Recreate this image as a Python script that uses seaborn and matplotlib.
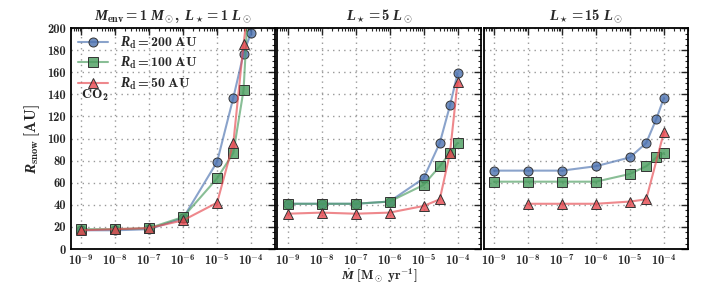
import numpy as np
import pandas as pd
import seaborn as sns
import matplotlib.pyplot as plt
from matplotlib.colors import to_rgba
from matplotlib.ticker import FuncFormatter, MultipleLocator, LogLocator, NullFormatter

# accretion rates (Msun/yr)
mdot = [1e-9, 1e-8, 1e-7, 1e-6, 1e-5, 3e-5, 6e-5, 1e-4]

# snowline radius [AU] per panel, per disk radius
l1_rd200 = [17, 17, 18, 28, 79, 137, 177, 196]
l1_rd100 = [18, 18, 19, 29, 64, 87, 144, 270]
l1_rd50 = [17, 18, 19, 26, 42, 96, 186, 240]

l5_rd200 = [41, 41, 41, 43, 64, 96, 130, 159]
l5_rd100 = [41, 41, 41, 43, 58, 75, 87, 96]
l5_rd50 = [32, 33, 32, 33, 39, 45, 87, 151]

l15_rd200 = [71, 71, 71, 75, 83, 96, 118, 137]
l15_rd100 = [61, 61, 61, 61, 68, 75, 83, 87]
l15_rd50 = [np.nan, 41, 41, 41, 43, 45, np.nan, 106]

panels = [
    (r'$M_{\rm env} = 1\ M_\odot,\ L_\star = 1\ L_\odot$', [l1_rd200, l1_rd100, l1_rd50]),
    (r'$L_\star = 5\ L_\odot$', [l5_rd200, l5_rd100, l5_rd50]),
    (r'$L_\star = 15\ L_\odot$', [l15_rd200, l15_rd100, l15_rd50]),
]
labels = [r'$R_{\rm d} = 200\ \rm AU$', r'$R_{\rm d} = 100\ \rm AU$', r'$R_{\rm d} = 50\ \rm AU$']
colors = ['#4C72B0', '#4A9C5E', '#E5484F']
markers = ['o', 's', '^']

sns.set_style('white')
plt.rcParams['font.family'] = 'serif'
plt.rcParams['font.serif'] = ['cmb10', 'DejaVu Serif']
plt.rcParams['mathtext.fontset'] = 'custom'
plt.rcParams['mathtext.rm'] = 'cmb10'
plt.rcParams['mathtext.bf'] = 'cmb10'
plt.rcParams['mathtext.it'] = 'Liberation Serif:italic:bold'
plt.rcParams['mathtext.fallback'] = 'cm'
plt.rcParams['axes.unicode_minus'] = False

fig, axes = plt.subplots(1, 3, figsize=(7.09, 2.84), dpi=100, sharey=True)
fig.subplots_adjust(left=0.100, right=0.970, top=0.901, bottom=0.123, wspace=0.012)

for ax, (title, series) in zip(axes, panels):
    for vals, lab, col, mk in zip(series, labels, colors, markers):
        df = pd.DataFrame({'mdot': mdot, 'r': vals}).dropna()
        sns.lineplot(data=df, x='mdot', y='r', ax=ax, color=to_rgba(col, 0.65), marker=mk,
                     markersize=6.5, markerfacecolor=to_rgba(col, 0.8),
                     markeredgecolor='#333333', markeredgewidth=0.7,
                     linewidth=1.5, label=lab)
    ax.set_xscale('log')
    ax.set_xlim(5e-10, 5e-4)
    ax.set_ylim(0, 200)
    ax.set_title(title, fontsize=10.5, pad=6)
    ax.set_xlabel('')
    ax.set_ylabel('')
    ax.xaxis.set_major_locator(LogLocator(base=10, numticks=20))
    ax.xaxis.set_minor_locator(LogLocator(base=10, subs=np.arange(2, 10), numticks=20))
    ax.xaxis.set_minor_formatter(NullFormatter())
    ax.xaxis.set_major_formatter(FuncFormatter(lambda v, _: r'$10^{%d}$' % round(np.log10(v))))
    ax.set_xticks([1e-9, 1e-8, 1e-7, 1e-6, 1e-5, 1e-4])
    ax.yaxis.set_major_locator(MultipleLocator(20))
    ax.yaxis.set_minor_locator(MultipleLocator(5))
    ax.tick_params(which='both', direction='in', top=True, right=True, labelsize=9)
    ax.tick_params(axis='x', pad=3)
    ax.tick_params(which='major', length=5, width=1)
    ax.tick_params(which='minor', length=2.5, width=0.8)
    ax.grid(True, which='major', linestyle=(0, (1, 3)), color='#999999', linewidth=1.0)
    for s in ax.spines.values():
        s.set_linewidth(1.3)
        s.set_color('black')
    if ax is not axes[0]:
        ax.get_legend().remove()

axes[0].legend(loc='upper left', frameon=False, fontsize=10, handlelength=2.2,
               borderaxespad=0.2, labelspacing=0.3, borderpad=0.3)
axes[0].text(0.05, 0.68, r'$\rm CO_2$', transform=axes[0].transAxes, fontsize=10)
axes[0].set_ylabel(r'$R_{\rm snow}\ [\rm AU]$', fontsize=11)
axes[1].set_xlabel(r'$\dot{M}\ [\rm M_\odot\ yr^{-1}]$', fontsize=9.5, labelpad=-1)

plt.savefig('out.png', dpi=100)
